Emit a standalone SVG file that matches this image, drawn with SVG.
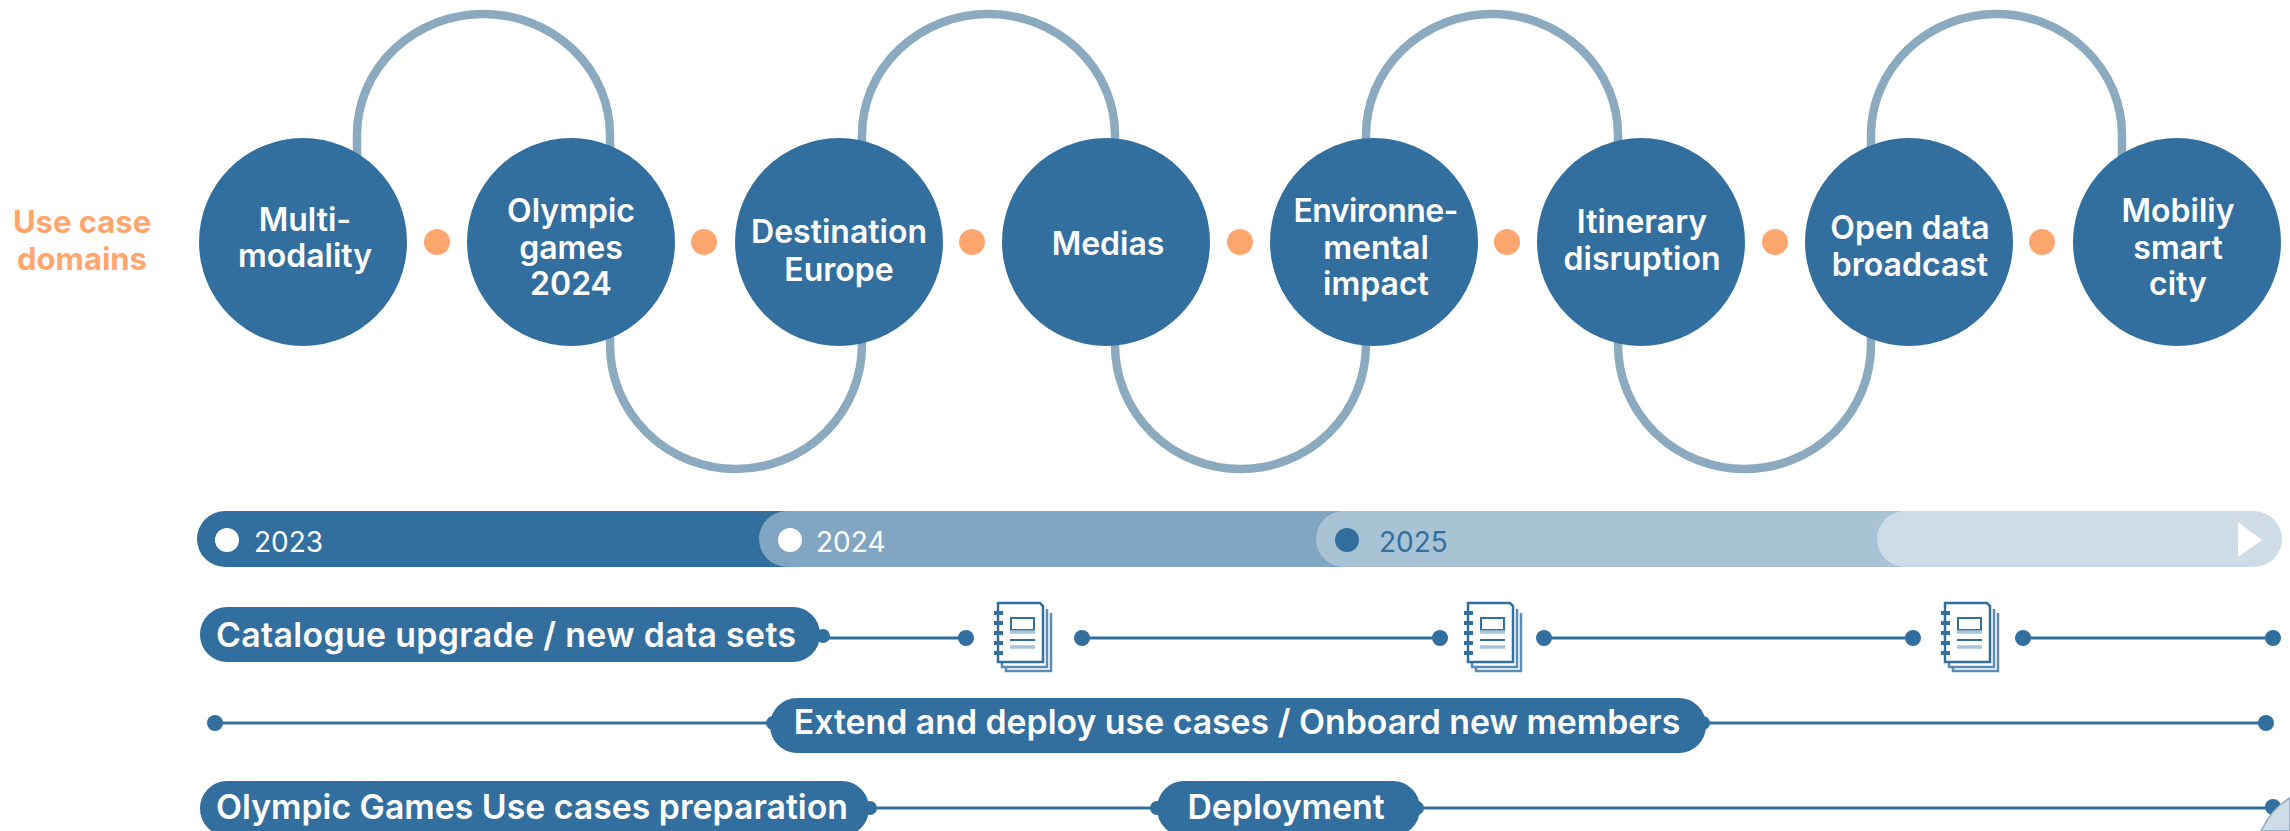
<svg xmlns="http://www.w3.org/2000/svg" width="2290" height="831" viewBox="0 0 2290 831">
<style>
text{font-family:"Inter","Liberation Sans",sans-serif;font-weight:600;fill:#fff;text-anchor:middle}
.n{font-size:32px}
.b{font-size:33.8px}
.y{font-size:28px;font-weight:400;text-anchor:start}
.u{fill:#ffa56e;font-size:31px;font-weight:700}
.c{fill:#326f9f}
.l{fill:none;stroke:#8caabf;stroke-width:8.5}
.s{stroke:#326f9f;stroke-width:3;fill:none}
.d{fill:#326f9f}
.o{fill:#ffa56e}
</style>
<defs>
<g id="book">
<path d="M13 10V68H58V10" fill="#fff" stroke="#5b8db4" stroke-width="2.5"/>
<path d="M9 6V64H54V6" fill="#fff" stroke="#5b8db4" stroke-width="2.5"/>
<path d="M5 0H47L50 3V59H5Z" fill="#fff" stroke="#326f9f" stroke-width="2.5"/>
<path d="M1 10h9M1 20h9M1 30h9M1 40h9M1 50h9" stroke="#326f9f" stroke-width="4"/>
<rect x="18" y="15" width="23" height="12" fill="none" stroke="#326f9f" stroke-width="2"/>
<path d="M17 29H42M17 44H42" stroke="#a8c2d6" stroke-width="3.5"/>
<path d="M17 37H42" stroke="#326f9f" stroke-width="2"/>
</g>
</defs>
<g id="connectors">
<path class="l" d="M357 170V135A126.500 121 0 0 1 610 135V170"/>
<path class="l" d="M862 170V135A126.500 121 0 0 1 1115 135V170"/>
<path class="l" d="M1366 170V135A126 121 0 0 1 1618 135V170"/>
<path class="l" d="M1871 170V135A125.500 121 0 0 1 2122 135V170"/>
<path class="l" d="M610 320V345A126 124 0 0 0 862 345V320"/>
<path class="l" d="M1115 320V345A125.500 124 0 0 0 1366 345V320"/>
<path class="l" d="M1618 320V345A126.500 124 0 0 0 1871 345V320"/>
<path class="s" d="M826 638H965M1082 638H1440M1544 638H1913M2021 638H2273"/>
<path class="s" d="M215 723H2265"/>
<path class="s" d="M870 808H2273"/>
</g>
<text class="u" x="82" y="233">Use case</text>
<text class="u" x="82" y="270">domains</text>
<g id="dots">
<circle class="o" cx="437" cy="242" r="13"/><circle class="o" cx="704" cy="242" r="13"/><circle class="o" cx="972" cy="242" r="13"/><circle class="o" cx="1240" cy="242" r="13"/><circle class="o" cx="1507" cy="242" r="13"/><circle class="o" cx="1775" cy="242" r="13"/><circle class="o" cx="2042" cy="242" r="13"/>
</g>
<g id="n1"><circle class="c" cx="303" cy="242" r="104"/><text class="n" x="305" y="231">Multi-</text><text class="n" x="305" y="267">modality</text></g>
<g id="n2"><circle class="c" cx="571" cy="242" r="104"/><text class="n" x="571" y="222">Olympic</text><text class="n" x="571" y="259">games</text><text class="n" x="571" y="295">2024</text></g>
<g id="n3"><circle class="c" cx="839" cy="242" r="104"/><text class="n" x="839" y="243">Destination</text><text class="n" x="839" y="281">Europe</text></g>
<g id="n4"><circle class="c" cx="1106" cy="242" r="104"/><text class="n" x="1108" y="255">Medias</text></g>
<g id="n5"><circle class="c" cx="1374" cy="242" r="104"/><text class="n" x="1376" y="222" textLength="165">Environne-</text><text class="n" x="1376" y="259">mental</text><text class="n" x="1376" y="295">impact</text></g>
<g id="n6"><circle class="c" cx="1641" cy="242" r="104"/><text class="n" x="1642" y="233">Itinerary</text><text class="n" x="1642" y="270">disruption</text></g>
<g id="n7"><circle class="c" cx="1909" cy="242" r="104"/><text class="n" x="1910" y="239">Open data</text><text class="n" x="1910" y="276">broadcast</text></g>
<g id="n8"><circle class="c" cx="2177" cy="242" r="104"/><text class="n" x="2178" y="222">Mobiliy</text><text class="n" x="2178" y="259">smart</text><text class="n" x="2178" y="295">city</text></g>
<g id="timeline">
<rect x="197" y="511" width="700" height="56" rx="28" fill="#326f9f"/>
<rect x="759" y="511" width="700" height="56" rx="28" fill="#80a6c3"/>
<rect x="1316" y="511" width="700" height="56" rx="28" fill="#a8c2d6"/>
<rect x="1877" y="511" width="405" height="56" rx="28" fill="#cfdce7"/>
<circle cx="227" cy="540" r="12" fill="#fff"/><text class="y" x="254" y="552">2023</text>
<circle cx="790" cy="540" r="12" fill="#fff"/><text class="y" x="816" y="552">2024</text>
<circle cx="1347" cy="540" r="12" fill="#326f9f"/><text class="y" x="1379" y="552" style="fill:#326f9f">2025</text>
<path d="M2238 522L2262 540L2238 557Z" fill="#fff"/>
</g>
<g id="bar1"><rect x="200" y="607" width="620" height="55" rx="27" class="c"/><circle class="d" cx="823" cy="636" r="7"/><text class="b" x="506" y="647" textLength="580">Catalogue upgrade / new data sets</text>
<circle class="d" cx="966" cy="638" r="8"/><circle class="d" cx="1082" cy="638" r="8"/><circle class="d" cx="1440" cy="638" r="8"/><circle class="d" cx="1544" cy="638" r="8"/><circle class="d" cx="1913" cy="638" r="8"/><circle class="d" cx="2023" cy="638" r="8"/><circle class="d" cx="2273" cy="638" r="8"/>
<use href="#book" x="993" y="603"/><use href="#book" x="1463" y="603"/><use href="#book" x="1940" y="603"/></g>
<g id="bar2"><rect x="770" y="698" width="936" height="55" rx="27" class="c"/><circle class="d" cx="773" cy="723" r="7"/><circle class="d" cx="1703" cy="723" r="7"/><circle class="d" cx="215" cy="723" r="8"/><circle class="d" cx="2266" cy="723" r="8"/><text class="b" x="1237" y="734">Extend and deploy use cases / Onboard new members</text></g>
<g id="bar3"><rect x="200" y="781" width="669" height="55" rx="27" class="c"/><circle class="d" cx="870" cy="808" r="7"/><text class="b" x="532" y="819">Olympic Games Use cases preparation</text>
<rect x="1157" y="781" width="263" height="55" rx="27" class="c"/><circle class="d" cx="1157" cy="808" r="7"/><circle class="d" cx="1417" cy="808" r="7"/><text class="b" x="1286" y="819">Deployment</text><circle class="d" cx="2273" cy="807" r="8"/></g>
<path d="M2261 831Q2272 808 2290 798V831Z" fill="#cfdce7" stroke="#8caabf" stroke-width="1.500"/>
</svg>
